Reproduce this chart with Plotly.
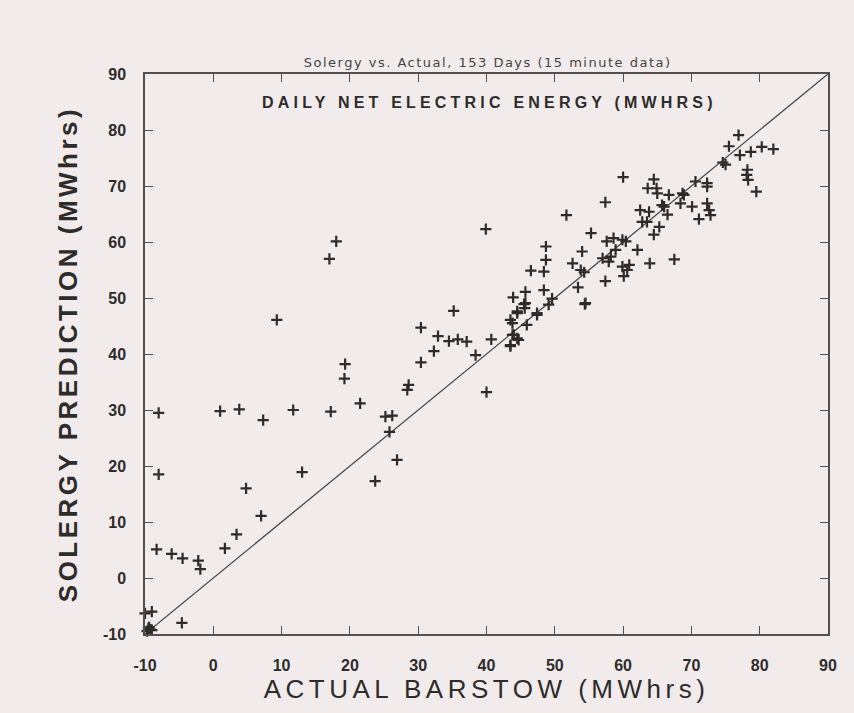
import plotly.graph_objects as go

# Actual Barstow (MWhrs) vs Solergy prediction (MWhrs)
actual = [
    17.0, 18.0, 9.3, 19.3, 19.2, 21.5, -8.0, 1.0, 3.8, 7.3, 11.7, 17.2,
    -8.0, 13.0, 4.8, 7.0, 3.4, 1.7, -8.3, -6.1, -4.5, -2.2, -1.9,
    -10.6, -10.6, -10.5, -10.0, -9.0, -4.6, -9.5, -9.2, -9.7, -9.0, -9.4,
    35.2, 30.4, 32.9, 34.5, 35.8, 37.1, 32.3, 38.4, 40.7, 30.4, 28.6, 28.4,
    40.0, 25.2, 26.2, 25.8, 26.9, 23.7,
    43.5, 43.8, 45.5, 45.6, 44.5, 43.8, 44.5, 43.5, 45.9, 47.4, 49.1, 54.4,
    39.9, 60.0, 64.5, 63.6, 64.9, 65.0, 57.4, 51.7, 65.7, 66.7, 62.5, 63.8,
    66.5, 62.8, 63.5, 65.3, 64.5, 55.3, 58.6, 59.9, 60.4, 57.6, 62.1, 58.9,
    48.7, 48.7, 46.5, 48.4, 54.0, 53.8, 54.3, 52.6, 57.9, 60.9, 60.6, 60.1,
    63.9, 67.5, 57.4, 48.4, 45.7, 53.4, 49.6, 43.9, 54.5, 45.7, 44.5, 47.4,
    44.0, 44.7, 43.5, 57.0, 58.2, 59.9,
    76.9, 75.5, 77.1, 78.7, 80.3, 82.0, 75.0, 74.6, 78.2, 78.1, 78.3, 79.5,
    70.6, 72.3, 72.3, 68.7, 68.9, 68.4, 70.1, 72.3, 72.6, 72.8, 71.1, 66.0,
]
predicted = [
    57.0, 60.1, 46.1, 38.2, 35.6, 31.2, 29.5, 29.8, 30.1, 28.2, 30.0, 29.7,
    18.5, 18.9, 16.0, 11.1, 7.8, 5.3, 5.1, 4.3, 3.5, 3.1, 1.6,
    4.1, 1.0, -0.9, -6.3, -6.0, -8.0, -9.0, -9.2, -9.5, -9.3, -8.8,
    47.7, 44.7, 43.2, 42.3, 42.6, 42.2, 40.5, 39.8, 42.6, 38.5, 34.5, 33.6,
    33.2, 28.8, 29.0, 26.1, 21.1, 17.3,
    46.1, 45.5, 48.9, 48.2, 47.3, 43.4, 42.8, 41.6, 45.2, 47.0, 48.8, 48.9,
    62.3, 71.6, 71.2, 69.6, 69.6, 68.7, 67.1, 64.8, 66.6, 68.4, 65.7, 65.4,
    64.9, 63.6, 63.6, 62.7, 61.3, 61.6, 60.7, 60.4, 60.1, 60.1, 58.6, 58.6,
    59.2, 56.8, 54.9, 54.7, 58.3, 55.0, 54.6, 56.2, 56.5, 55.9, 55.0, 53.9,
    56.2, 56.9, 53.0, 51.4, 51.1, 51.9, 49.9, 50.1, 49.1, 49.1, 47.6, 47.3,
    43.4, 42.5, 41.4, 57.1, 57.4, 55.6,
    79.1, 77.1, 75.5, 76.1, 77.0, 76.6, 73.8, 74.2, 72.9, 72.0, 71.1, 69.0,
    70.8, 70.5, 69.9, 68.7, 68.4, 66.9, 66.3, 66.9, 65.7, 64.8, 64.1, 66.3,
]

axis_ticks = [-10, 0, 10, 20, 30, 40, 50, 60, 70, 80, 90]
line_ends = [-10, 90]

ink = "#2e2b2b"
paper = "#f1eceb"


def spaced(text, px):
    return f'<span style="letter-spacing:{px}px">{text}</span>'


fig = go.Figure()
fig.add_trace(go.Scatter(
    x=line_ends, y=line_ends, mode="lines",
    line=dict(color="#4a4646", width=1.3), hoverinfo="skip", showlegend=False,
))
fig.add_trace(go.Scatter(
    x=actual, y=predicted, mode="markers",
    marker=dict(symbol="cross-thin-open", size=8, color=ink,
                line=dict(color=ink, width=2.2)),
    cliponaxis=False, showlegend=False,
))

axis_common = dict(
    range=[-10, 90], tickvals=axis_ticks, ticktext=[str(t) for t in axis_ticks],
    showgrid=False, zeroline=False, showline=True, linecolor="#555050",
    linewidth=1.5, mirror="ticks", ticks="inside", ticklen=8, tickwidth=1.2,
    tickcolor="#555050",
    tickfont=dict(family="Liberation Sans", size=16, color=ink, weight="bold"),
)

fig.update_layout(
    width=854, height=713,
    paper_bgcolor=paper, plot_bgcolor=paper,
    margin=dict(l=145, r=26, t=74, b=79),
    title=dict(text=spaced("Solergy vs. Actual, 153 Days (15 minute data)", 1.5),
               x=0.571, xref="container", xanchor="center",
               y=0.913, yanchor="middle",
               font=dict(family="DejaVu Sans", size=13, color="#444")),
    xaxis=dict(**axis_common, ticklabelstandoff=16,
               title=dict(text=spaced("ACTUAL BARSTOW (MWhrs)", 4.5), standoff=6,
                          font=dict(family="Liberation Sans", size=26, color=ink))),
    yaxis=dict(**axis_common, ticklabelstandoff=14,
               title=dict(text=spaced("SOLERGY PREDICTION (MWhrs)", 3.5), standoff=18,
                          font=dict(family="Liberation Sans", size=26, color=ink,
                                    weight="bold"))),
    annotations=[dict(
        text=spaced("DAILY NET ELECTRIC ENERGY (MWHRS)", 4.2), x=0.505, y=0.95,
        xref="paper", yref="paper", xanchor="center", yanchor="middle",
        showarrow=False,
        font=dict(family="Liberation Sans", size=16, color=ink, weight="bold"),
    )],
)

fig.write_html(
    "out.html",
    config={"displayModeBar": False},
    post_script="document.body.style.margin='0';document.body.style.background='%s';" % paper,
)
